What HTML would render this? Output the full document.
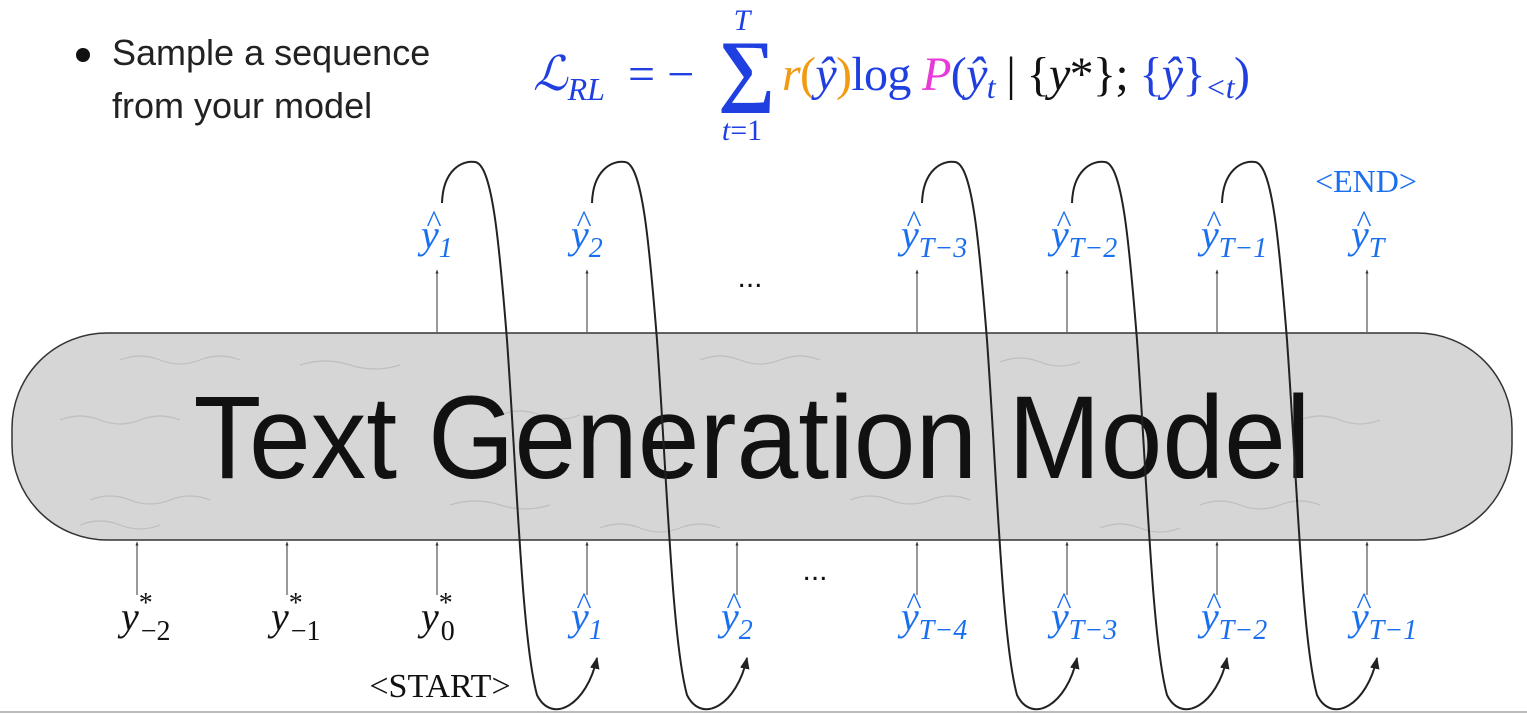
<!DOCTYPE html>
<html><head><meta charset="utf-8"><style>
html,body{margin:0;padding:0;background:#fff;}
svg{display:block;}
.lbl{font-family:"Liberation Serif",serif;font-style:italic;}
</style></head><body>
<svg width="1527" height="716" viewBox="0 0 1527 716" xmlns="http://www.w3.org/2000/svg">
<defs>
<marker id="ah" viewBox="0 0 10 10" refX="9" refY="5" markerWidth="6" markerHeight="6" orient="auto"><path d="M0,1 L10,5 L0,9 z" fill="#222"/></marker>
<marker id="ahs" viewBox="0 0 10 10" refX="9" refY="5" markerWidth="4" markerHeight="4" orient="auto"><path d="M0,1 L10,5 L0,9 z" fill="#333"/></marker>
</defs>
<line x1="0" y1="712" x2="1527" y2="712" stroke="#bbb" stroke-width="2"/>
<circle cx="83" cy="55" r="7" fill="#111"/>
<text x="112" y="65" font-family="Liberation Sans,sans-serif" font-size="36" fill="#222">Sample a sequence</text>
<text x="112" y="118" font-family="Liberation Sans,sans-serif" font-size="36" fill="#222">from your model</text>
<g font-family="Liberation Serif,serif" font-size="48">
<text x="533" y="90" fill="#1f3fe0" font-style="italic">ℒ<tspan font-size="32" dy="10">RL</tspan></text>
<text x="628" y="90" fill="#1f3fe0">= −</text>
<text x="718" y="96" fill="#1f3fe0" font-size="80" font-weight="bold">∑</text>
<text x="742" y="30" fill="#1f3fe0" font-size="30" font-style="italic" text-anchor="middle">T</text>
<text x="742" y="140" fill="#1f3fe0" font-size="30" text-anchor="middle"><tspan font-style="italic">t</tspan>=1</text>
<text x="782" y="90" textLength="468" lengthAdjust="spacing"><tspan fill="#f29a12" font-style="italic">r</tspan><tspan fill="#f29a12">(</tspan><tspan fill="#1f3fe0" font-style="italic">ŷ</tspan><tspan fill="#f29a12">)</tspan><tspan fill="#1f3fe0">log </tspan><tspan fill="#e83ad8" font-style="italic">P</tspan><tspan fill="#1f3fe0">(</tspan><tspan fill="#1f3fe0" font-style="italic">ŷ</tspan><tspan fill="#1f3fe0" font-style="italic" font-size="32" dy="8">t</tspan><tspan fill="#111" dy="-8"> | {</tspan><tspan fill="#111" font-style="italic">y</tspan><tspan fill="#111">*}; </tspan><tspan fill="#1f3fe0">{</tspan><tspan fill="#1f3fe0" font-style="italic">ŷ</tspan><tspan fill="#1f3fe0">}</tspan><tspan fill="#1f3fe0" font-style="italic" font-size="32" dy="8">&lt;t</tspan><tspan fill="#1f3fe0" dy="-8">)</tspan></text>
</g>
<rect x="12" y="333" width="1500" height="207" rx="95" ry="95" fill="#d6d6d6" stroke="#333" stroke-width="1.5"/>
<g stroke="#b8b8b8" stroke-width="1.2" fill="none" opacity="0.8">
<path d="M120,360 q20,-8 40,0 t40,0 t40,0 M300,365 q25,-8 50,0 t50,0 M700,360 q20,-8 40,0 t40,0 t40,0 M1000,362 q20,-8 40,0 t40,0 M60,420 q20,-8 40,0 t40,0 t40,0 M500,415 q20,-8 40,0 t40,0 M1300,420 q20,-8 40,0 t40,0 M90,500 q20,-8 40,0 t40,0 t40,0 M450,505 q25,-8 50,0 t50,0 M850,500 q20,-8 40,0 t40,0 t40,0 M1200,505 q20,-8 40,0 t40,0 t40,0 M80,525 q20,-8 40,0 t40,0 M600,528 q20,-8 40,0 t40,0 t40,0 M1100,528 q20,-8 40,0 t40,0"/>
</g>
<text x="752" y="478" font-family="Liberation Sans,sans-serif" font-size="118" fill="#111" text-anchor="middle" textLength="1117" lengthAdjust="spacingAndGlyphs">Text Generation Model</text>
<g id="arrows" stroke="#333" stroke-width="1"></g>
<g id="loops"></g>
<g id="labels"></g>
<text x="750" y="287" font-family="Liberation Sans,sans-serif" font-size="30" fill="#111" text-anchor="middle">...</text>
<text x="815" y="580" font-family="Liberation Sans,sans-serif" font-size="30" fill="#111" text-anchor="middle">...</text>
<text x="1366" y="192" font-family="Liberation Serif,serif" font-size="32" fill="#1a6ff0" text-anchor="middle">&lt;END&gt;</text>
<text x="440" y="697" font-family="Liberation Serif,serif" font-size="34" fill="#111" text-anchor="middle">&lt;START&gt;</text>
</svg>
<script>
const topCols=[437,587,917,1067,1217,1367];
const topSubs=["1","2","T−3","T−2","T−1","T"];
const botCols=[137,287,437,587,737,917,1067,1217,1367];
const botSubs=["−2","−1","0","1","2","T−4","T−3","T−2","T−1"];
const botGold=[true,true,true,false,false,false,false,false,false];
const loopCols=[437,587,917,1067,1217];
const NS="http://www.w3.org/2000/svg";
function mk(tag,attrs,parent){const e=document.createElementNS(NS,tag);for(const k in attrs)e.setAttribute(k,attrs[k]);parent.appendChild(e);return e;}
const A=document.getElementById('arrows'),L=document.getElementById('loops'),T=document.getElementById('labels');
topCols.forEach((c,i)=>{
 const ln=mk('line',{x1:c,y1:332,x2:c,y2:270,'marker-end':'url(#ahs)'},A);
 
 
 const t=mk('text',{x:c-16,y:248,class:'lbl','font-size':40,fill:'#1a6ff0'},T);
 
 
 t.innerHTML='y<tspan font-size="28" dy="9">'+topSubs[i]+'</tspan>';
 const h=mk('text',{x:c-3,y:232,'font-family':'Liberation Serif,serif','font-size':32,fill:'#1a6ff0','text-anchor':'middle'},T);
 
 
 h.textContent='^';
});
botCols.forEach((c,i)=>{
 const ln=mk('line',{x1:c,y1:595,x2:c,y2:542,'marker-end':'url(#ahs)'},A);
 
 
 const col=botGold[i]?'#111':'#1a6ff0';
 const t=mk('text',{x:c-16,y:630,class:'lbl','font-size':40,fill:col},T);
 
 
 if(botGold[i]){
  t.innerHTML='y<tspan font-size="28" dy="-18" font-style="normal">*</tspan><tspan font-size="28" dx="-12" dy="28" font-style="normal">'+botSubs[i]+'</tspan>';
 } else {
  t.innerHTML='y<tspan font-size="28" dy="9">'+botSubs[i]+'</tspan>';
  const h=mk('text',{x:c-3,y:614,'font-family':'Liberation Serif,serif','font-size':32,fill:'#1a6ff0','text-anchor':'middle'},T);
  
  
  h.textContent='^';
 }
});
loopCols.forEach(c=>{
 const d='M'+(c+5)+',203 C'+(c+6)+',170 '+(c+25)+',160 '+(c+38)+',162 C'+(c+55)+',164 '+(c+62)+',240 '+(c+70)+',340 C'+(c+80)+',480 '+(c+85)+',640 '+(c+100)+',695 C'+(c+115)+',725 '+(c+150)+',705 '+(c+160)+',658';
 const p=mk('path',{d:d,fill:'none',stroke:'#222','stroke-width':2,'marker-end':'url(#ah)'},L);
 
 
});
</script>
</body></html>
